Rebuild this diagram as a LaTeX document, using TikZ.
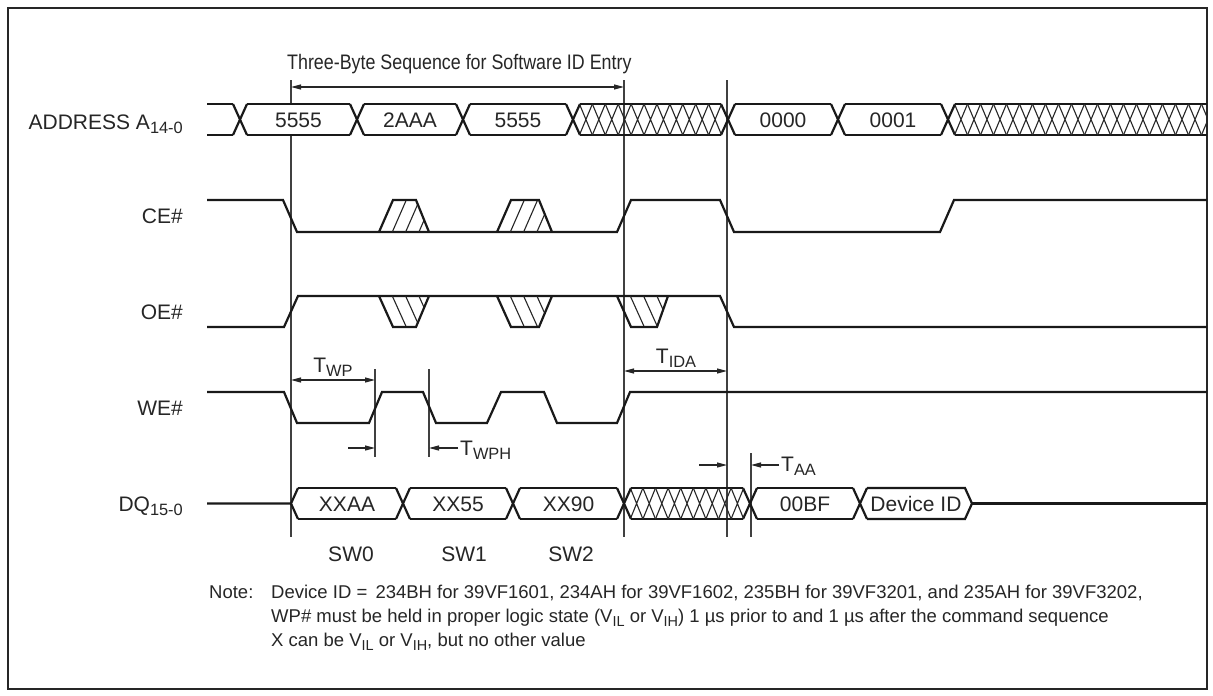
\documentclass[tikz,border=0pt]{standalone}
\usepackage{fontspec}
\setmainfont{Liberation Sans}
\newfontfamily\titlefont[FakeStretch=0.85]{Liberation Sans}
\usetikzlibrary{arrows.meta}
\newcommand{\lsb}[1]{\raisebox{-0.22em}{\scalebox{0.78}{#1}}}
% X transition: center, top, bottom, half width, style
\newcommand{\xc}[5]{\draw[#5] ({#1-#4},#2)--({#1+#4},#3) ({#1-#4},#3)--({#1+#4},#2);}
% bus segment lines between two transition centers
\newcommand{\seg}[4]{\draw[sig] ({#1+7},#3)--({#2-7},#3) ({#1+7},#4)--({#2-7},#4);}
\tikzset{
  sig/.style={line width=2.2pt, black!90, line join=miter},
  hat/.style={line width=1.1pt, black!85},
  vref/.style={line width=1.3pt, black!75},
  dim/.style={line width=1.2pt, black!85},
  arr/.style={dim, -{Triangle[length=10pt,width=5pt]}},
  darr/.style={dim, {Triangle[length=10pt,width=5pt]}-{Triangle[length=10pt,width=5pt]}},
  lbl/.style={inner sep=0pt, font=\fontsize{21}{25}\selectfont, text=black!85},
  note/.style={inner sep=0pt, font=\fontsize{18.5}{24}\selectfont, text=black!85},
}
\begin{document}
\begin{tikzpicture}[x=1pt,y=-1pt]
\useasboundingbox (0,0) rectangle (1213,696);
\fill[white] (0,0) rectangle (1213,696);
\draw[line width=2pt, black!85] (8,8) rectangle (1207,689);

% ---------- reference lines ----------
\coordinate (l1a) at (291,80);  \coordinate (l1b) at (291,104);
\coordinate (l1c) at (291,135); \coordinate (l1d) at (291,537);
\coordinate (l2a) at (624,80);  \coordinate (l2b) at (624,537);
\coordinate (l3a) at (727,80);  \coordinate (l3b) at (727,537);
\coordinate (l4a) at (751,453); \coordinate (l4b) at (751,537);
\coordinate (lwa) at (375,369); \coordinate (lwb) at (375,457);
\coordinate (lha) at (429,369); \coordinate (lhb) at (429,457);
\draw[vref] (l1a)--(l1b) (l1c)--(l1d) (l2a)--(l2b) (l3a)--(l3b)
            (l4a)--(l4b) (lwa)--(lwb) (lha)--(lhb);

% ---------- title ----------
\node[lbl, anchor=base west, font=\titlefont\fontsize{21}{25}\selectfont] (title) at (287,69) {Three-Byte Sequence for Software ID Entry};
\coordinate (ta) at (291,87); \coordinate (tb) at (624,87);
\draw[darr] (ta)--(tb);

% ---------- signal names ----------
\node[lbl, anchor=base east] (nadr) at (183,129) {ADDRESS A\lsb{14-0}};
\node[lbl, anchor=base east] (nce) at (183,223) {CE\#};
\node[lbl, anchor=base east] (noe) at (183,319) {OE\#};
\node[lbl, anchor=base east] (nwe) at (183,415) {WE\#};
\node[lbl, anchor=base east] (ndq) at (183,511) {DQ\lsb{15-0}};

% ---------- address bus (top 104, bottom 135) ----------
\draw[sig] (207,104)--(233,104) (207,135)--(233,135);
\foreach \c in {240,357,463,573,728,838,948} {\xc{\c}{104}{135}{7}{sig}}
\seg{240}{357}{104}{135}
\seg{357}{463}{104}{135}
\seg{463}{573}{104}{135}
\seg{573}{728}{104}{135}
\foreach \k in {1,...,11} {\xc{573+\k*12.917}{104}{135}{6.46}{hat}}
\seg{728}{838}{104}{135}
\seg{838}{948}{104}{135}
\begin{scope}
\clip (0,0) rectangle (1207,696);
\draw[sig] (955,104)--(1207,104) (955,135)--(1207,135);
\foreach \k in {1,...,21} {\xc{948+\k*13}{104}{135}{6.5}{hat}}
\end{scope}
\node[lbl, anchor=base] (a1) at (298.5,127) {5555};
\node[lbl, anchor=base] (a2) at (410,127) {2AAA};
\node[lbl, anchor=base] (a3) at (518,127) {5555};
\node[lbl, anchor=base] (a4) at (783,127) {0000};
\node[lbl, anchor=base] (a5) at (893,127) {0001};

% ---------- CE# ----------
\draw[sig] (207,200)--(283,200)--(297,232)--(617,232)--(631,200)--(720,200)--(734,232)--(940,232)--(954,200)--(1207,200);
\foreach \x/\w in {379/0, 497/5} {
  \begin{scope}
  \clip (\x,232)--({\x+14},200)--({\x+37+\w},200)--({\x+50+\w},232)--cycle;
  \foreach \k in {1,2,3,4} \draw[hat] ({\x+13.3*\k},232)--({\x+14+13.3*\k},200);
  \end{scope}
  \draw[sig] (\x,232)--({\x+14},200)--({\x+37+\w},200)--({\x+50+\w},232);
}

% ---------- OE# ----------
\draw[sig] (207,327)--(284,327)--(298,296)--(720,296)--(734,327)--(1207,327);
\foreach \x/\w/\v in {379/0/0, 497/5/0, 617/3/-2} {
  \begin{scope}
  \clip (\x,296)--({\x+14},327)--({\x+37+\w},327)--({\x+50+\w+\v},296)--cycle;
  \foreach \k in {1,2,3,4} \draw[hat] ({\x+13.3*\k},296)--({\x+14+13.3*\k},327);
  \end{scope}
  \draw[sig] (\x,296)--({\x+14},327)--({\x+37+\w},327)--({\x+50+\w+\v},296);
}

% ---------- WE# ----------
\draw[sig] (207,392)--(284,392)--(297,423)--(369,423)--(382,392)--(423,392)--(436,423)--(487,423)--(501,392)--(544,392)--(557,423)--(617,423)--(630,392)--(1207,392);

% ---------- DQ bus (top 488, bottom 519) ----------
\draw[sig] (207,503.5)--(291,503.5)--(298,488) (291,503.5)--(298,519);
\foreach \c in {403,513,624,750,860} {\xc{\c}{488}{519}{7}{sig}}
\draw[sig] (298,488)--(396,488) (298,519)--(396,519);
\seg{403}{513}{488}{519}
\seg{513}{624}{488}{519}
\seg{624}{750}{488}{519}
\foreach \k in {1,...,9} {\xc{624+\k*12.6}{488}{519}{6.3}{hat}}
\seg{750}{860}{488}{519}
\draw[sig] (867,488)--(965,488)--(972,503.5)--(965,519)--(867,519);
\draw[sig] (972,503.5)--(1207,503.5);
\node[lbl, anchor=base] (d1) at (347,511) {XXAA};
\node[lbl, anchor=base] (d2) at (458,511) {XX55};
\node[lbl, anchor=base] (d3) at (568.5,511) {XX90};
\node[lbl, anchor=base] (d4) at (805,511) {00BF};
\node[lbl, anchor=base] (d5) at (916,511) {Device ID};

% ---------- timing annotations ----------
\coordinate (wpa) at (291,380); \coordinate (wpb) at (375,380);
\draw[darr] (wpa)--(wpb);
\node[lbl, anchor=base] (twp) at (333,372) {T\lsb{WP}};
\coordinate (s1) at (348,448); \coordinate (s1e) at (375,448);
\draw[arr] (s1)--(s1e);
\coordinate (s2) at (458,448); \coordinate (s2e) at (429,448);
\draw[arr] (s2)--(s2e);
\node[lbl, anchor=base west] (twph) at (460,455) {T\lsb{WPH}};
\coordinate (ia) at (624,371); \coordinate (ib) at (727,371);
\draw[darr] (ia)--(ib);
\node[lbl, anchor=base] (tida) at (676,363) {T\lsb{IDA}};
\coordinate (aa1) at (699,465); \coordinate (aa1e) at (727,465);
\draw[arr] (aa1)--(aa1e);
\coordinate (aa2) at (779,465); \coordinate (aa2e) at (751,465);
\draw[arr] (aa2)--(aa2e);
\node[lbl, anchor=base west] (taa) at (781,471) {T\lsb{AA}};

% ---------- SW labels ----------
\node[lbl, anchor=base] (sw0) at (351,561.5) {SW0};
\node[lbl, anchor=base] (sw1) at (464,561.5) {SW1};
\node[lbl, anchor=base] (sw2) at (571,561.5) {SW2};

% ---------- note ----------
\node[note, anchor=base west] (nt) at (209,598) {Note:};
\node[note, anchor=base west] (nt1) at (271,598) {Device ID = \,234BH for 39VF1601, 234AH for 39VF1602, 235BH for 39VF3201, and 235AH for 39VF3202,};
\node[note, anchor=base west] (nt2) at (271,622) {WP\# must be held in proper logic state (V\lsb{IL} or V\lsb{IH}) 1 µs prior to and 1 µs after the command sequence};
\node[note, anchor=base west] (nt3) at (271,646) {X can be V\lsb{IL} or V\lsb{IH}, but no other value};
\end{tikzpicture}
\end{document}
